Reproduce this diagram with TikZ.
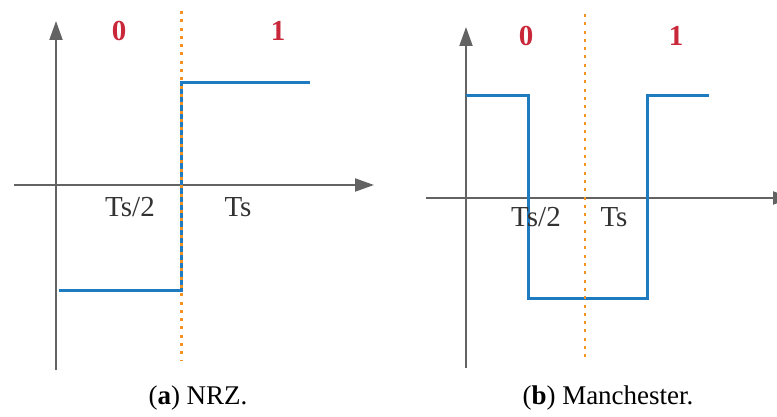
\documentclass[tikz,border=0pt]{standalone}
\usepackage{fontspec}
\setmainfont{Liberation Serif}
\usetikzlibrary{arrows.meta}
\definecolor{axisgray}{HTML}{636363}
\definecolor{sigblue}{HTML}{1E7BC0}
\definecolor{dotorange}{HTML}{F39323}
\definecolor{bitred}{HTML}{C8283A}
\definecolor{txtgray}{HTML}{333333}
\tikzset{
  axis/.style={draw=axisgray, line width=2pt, -{Triangle[length=19pt,width=13pt]}},
  signal/.style={draw=sigblue, line width=3pt, line join=miter},
  boundary/.style={draw=dotorange, line width=2.8pt, dash pattern=on 3pt off 5.3pt},
  bit/.style={text=bitred, font=\fontsize{29}{32}\selectfont\bfseries, inner sep=0pt},
  tick/.style={text=txtgray, font=\fontsize{29}{32}\selectfont, inner sep=0pt},
  caption/.style={text=black, font=\fontsize{27}{30}\selectfont, inner sep=0pt}
}
\begin{document}
\begin{tikzpicture}[x=1pt, y=-1pt]
\useasboundingbox (0,0) rectangle (777,417);
\clip (0,0) rectangle (777,417);
% ---------- (a) NRZ ----------
\coordinate (ay0) at (56,370);
\coordinate (ay1) at (56,21);
\coordinate (ax0) at (14,185);
\coordinate (ax1) at (374,185);
\draw[axis] (ay0) -- (ay1);
\draw[axis] (ax0) -- (ax1);
\coordinate (as0) at (59,290);
\coordinate (as1) at (181.7,290);
\coordinate (as2) at (181.7,83);
\coordinate (as3) at (310,83);
\draw[signal] (as0) -- (as1) -- (as2) -- (as3);
\coordinate (ad0) at (181.7,11);
\coordinate (ad1) at (181.7,360);
\draw[boundary] (ad0) -- (ad1);
\node[bit] (a0) at (119,31) {0};
\node[bit] (a1) at (278,31) {1};
\node[tick] (ats2) at (130,207) {Ts/2};
\node[tick] (ats) at (238,207) {Ts};
\node[caption] (acap) at (198,398) {(\textbf{a}) NRZ.};
% ---------- (b) Manchester ----------
\coordinate (by0) at (466,368);
\coordinate (by1) at (466,27);
\coordinate (bx0) at (426,198);
\coordinate (bx1) at (792,198);
\draw[axis] (by0) -- (by1);
\draw[axis] (bx0) -- (bx1);
\coordinate (bs0) at (466,96);
\coordinate (bs1) at (528,96);
\coordinate (bs2) at (528,298);
\coordinate (bs3) at (647,298);
\coordinate (bs4) at (647,96);
\coordinate (bs5) at (709,96);
\draw[signal] (bs0) -- (bs1) -- (bs2) -- (bs3) -- (bs4) -- (bs5);
\coordinate (bd0) at (585,14);
\coordinate (bd1) at (585,357);
\draw[boundary] (bd0) -- (bd1);
\node[bit] (b0) at (526,36) {0};
\node[bit] (b1) at (676,36) {1};
\node[tick] (bts2) at (536,217) {Ts/2};
\node[tick] (bts) at (614,217) {Ts};
\node[caption] (bcap) at (608,398) {(\textbf{b}) Manchester.};
\end{tikzpicture}
\end{document}
